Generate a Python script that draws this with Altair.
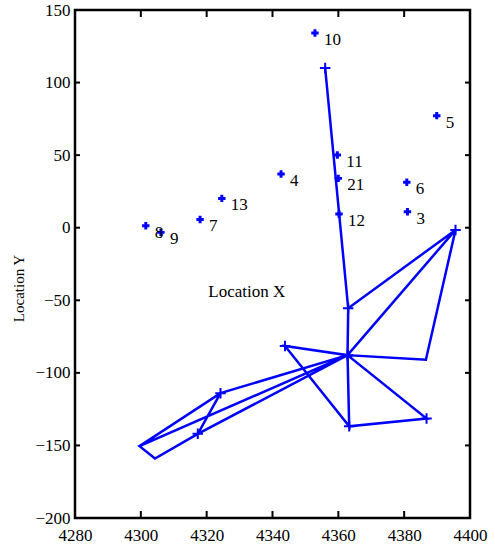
import altair as alt
import pandas as pd

# labelled stations
pt_labels = ["10", "5", "11", "21", "6", "3", "12", "4", "13", "7", "8", "9"]
pt_x = [4352.9, 4389.9, 4359.7, 4360.0, 4380.8, 4381.0, 4360.2, 4342.6, 4324.6, 4318.0, 4301.5, 4306.1]
pt_y = [134.1, 77.2, 50.1, 34.0, 31.3, 11.0, 9.4, 37.0, 20.2, 5.7, 1.4, -3.2]

# track vertices
v_names = ["A", "B", "C", "D", "H", "E", "F", "G", "I", "J", "K", "L"]
v_x = [4356.0, 4363.0, 4395.6, 4386.6, 4362.8, 4386.8, 4363.3, 4343.8, 4324.2, 4299.6, 4304.3, 4317.3]
v_y = [110.0, -55.5, -1.5, -91.0, -87.8, -131.5, -136.8, -81.5, -114.0, -150.5, -159.0, -142.0]
v_marked = [True, True, True, False, True, True, True, True, True, False, False, True]
track_order = ["A", "B", "C", "H", "B", "H", "D", "C", "H", "E", "F", "H", "G", "F",
               "H", "L", "K", "J", "H", "I", "J", "I", "L", "H"]

# annotation
ann_text = ["Location X"]
ann_x = [4332.2]
ann_y = [-44.1]

# axes
x_ticks = [4280, 4300, 4320, 4340, 4360, 4380, 4400]
y_ticks = [-200, -150, -100, -50, 0, 50, 100, 150]
x_inner = x_ticks[1:-1]
y_inner = y_ticks[1:-1]

W, H = 395, 508
BLUE = "#0000ff"
FONT = "Liberation Serif"

vx = dict(zip(v_names, v_x))
vy = dict(zip(v_names, v_y))
track = pd.DataFrame({
    "step": list(range(len(track_order))),
    "x": [vx[n] for n in track_order],
    "y": [vy[n] for n in track_order],
})
verts = pd.DataFrame({"x": v_x, "y": v_y, "m": v_marked})
verts = verts[verts["m"]]
pts = pd.DataFrame({"x": pt_x, "y": pt_y, "label": pt_labels})
ann = pd.DataFrame({"x": ann_x, "y": ann_y, "t": ann_text})

xs = alt.Scale(domain=[4280, 4400], nice=False, zero=False)
ys = alt.Scale(domain=[-200, 150], nice=False, zero=False)

X = alt.X("x:Q", scale=xs, axis=alt.Axis(values=x_ticks, title=None, labelPadding=9,
                                         labelFont=FONT, labelFontSize=17, labelColor="black",
                                         labelFlush=False, labelOverlap=False, format="d"))
Y = alt.Y("y:Q", scale=ys, axis=alt.Axis(values=y_ticks, title="Location Y", labelPadding=5,
                                         labelFont=FONT, labelFontSize=17, labelColor="black",
                                         labelFlush=False, labelOverlap=False,
                                         titleX=-52, titleY=278, titleBaseline="alphabetic",
                                         titleFont=FONT, titleFontSize=15,
                                         titleFontWeight="normal", titleColor="black"))

line = alt.Chart(track).mark_line(color=BLUE, strokeWidth=2.5).encode(x=X, y=Y, order="step:Q")

plus = alt.Chart(verts).mark_point(shape="M-1,0L1,0M0,-1L0,1", filled=False, color=BLUE,
                                    strokeWidth=2, size=110, opacity=1).encode(x="x:Q", y="y:Q")

dots = alt.Chart(pts).mark_point(shape="cross", filled=True, color=BLUE, size=55,
                                  opacity=1).encode(x="x:Q", y="y:Q")

labels = alt.Chart(pts).mark_text(align="left", baseline="middle", dx=9, dy=7, font=FONT,
                                   fontSize=17, color="black").encode(x="x:Q", y="y:Q", text="label:N")

annot = alt.Chart(ann).mark_text(align="center", baseline="middle", font=FONT, fontSize=17,
                                  color="black").encode(x="x:Q", y="y:Q", text="t:N")

xt = pd.DataFrame({"x": x_inner})
yt = pd.DataFrame({"y": y_inner})
tb = alt.Chart(xt).mark_rule(color="black", strokeWidth=2).encode(
    x="x:Q", y=alt.value(H), y2=alt.value(H - 7))
tt = alt.Chart(xt).mark_rule(color="black", strokeWidth=2).encode(
    x="x:Q", y=alt.value(0), y2=alt.value(7))
tl = alt.Chart(yt).mark_rule(color="black", strokeWidth=2).encode(
    y="y:Q", x=alt.value(0), x2=alt.value(5))
tr = alt.Chart(yt).mark_rule(color="black", strokeWidth=2).encode(
    y="y:Q", x=alt.value(W), x2=alt.value(W - 5))

chart = alt.layer(line, plus, dots, labels, annot, tb, tt, tl, tr).properties(
    width=W, height=H,
    autosize=alt.AutoSizeParams(type="none"),
    padding={"left": 75, "top": 10, "right": 25, "bottom": 28},
    background="white",
).configure(font=FONT).configure_view(stroke="black", strokeWidth=2.5).configure_axis(
    grid=False, ticks=False, domain=False, labelFont=FONT, labelFontSize=17, labelColor="black",
    titleFont=FONT
)

chart.save("out.html", embed_options={"renderer": "svg", "actions": False})
